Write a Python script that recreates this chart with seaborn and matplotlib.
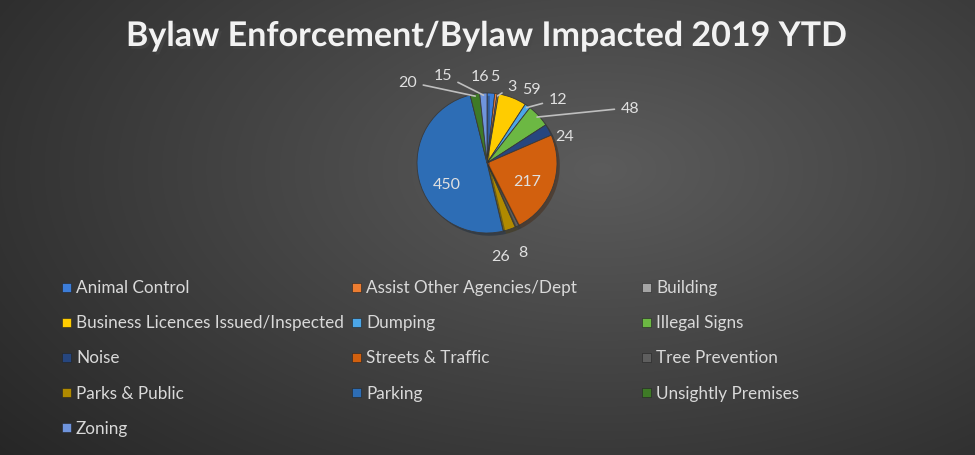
import matplotlib.pyplot as plt
import matplotlib.patheffects as pe
from matplotlib.patches import Rectangle
import seaborn as sns
import numpy as np

# data, in category order (pie runs clockwise from 12 o'clock)
categories = ["Animal Control", "Assist Other Agencies/Dept", "Building",
              "Business Licences Issued/Inspected", "Dumping", "Illegal Signs",
              "Noise", "Streets & Traffic", "Tree Prevention", "Parks & Public",
              "Parking", "Unsightly Premises", "Zoning"]
values = [16, 5, 3, 59, 12, 48, 24, 217, 8, 26, 450, 20, 15]
colors = ["#3C7DD9", "#ED7D31", "#A5A5A5", "#FFCC00", "#4BA6E8", "#6CB843",
          "#26467F", "#D2600E", "#5E5E5E", "#B08A00", "#2D6DB5", "#3E7A26",
          "#6F94DC"]

# layout of the data labels (pie radius = 1) and which ones get a leader line
label_xy = [(-0.10, 1.24), (0.11, 1.24), (0.36, 1.10), (0.64, 1.06),
            (1.01, 0.91), (2.04, 0.79), (1.11, 0.39), (0.57, -0.26),
            (0.51, -1.27), (0.19, -1.33), (-0.57, -0.30), (-1.13, 1.16),
            (-0.63, 1.26)]
leader = [False, False, True, False, True, True, False, False,
          False, False, False, True, True]

sns.set_theme(style="dark")
plt.rcParams['font.family'] = ['Lato', 'DejaVu Sans']

fig = plt.figure(figsize=(9.75, 4.56), dpi=100)

# dark radial gradient background
bg = fig.add_axes([0, 0, 1, 1])
yy, xx = np.mgrid[0:456, 0:975]
dist = np.hypot((xx - 600) / 750, (yy - 170) / 420)
shade = np.clip(0.36 - 0.2 * dist, 0.15, 0.4)
bg.imshow(np.dstack([shade] * 3), aspect='auto', interpolation='bilinear')
bg.axis('off')

# pie: radius 70 px, centre at (487, 164)
ax = fig.add_axes([0.2841, 0.1798, 0.4308, 0.9211])
wedges, _ = ax.pie(values, colors=colors, startangle=90, counterclock=False,
                   radius=1,
                   wedgeprops=dict(edgecolor='#3a3a3a', linewidth=0.6))
for w in wedges:
    w.set_path_effects([pe.SimplePatchShadow(offset=(2, -2), alpha=0.4),
                        pe.Normal()])
ax.set_xlim(-3, 3)
ax.set_ylim(-3, 3)
ax.axis('off')

for w, v, (lx, ly), lead in zip(wedges, values, label_xy, leader):
    mid = np.deg2rad((w.theta1 + w.theta2) / 2)
    tip = (0.97 * np.cos(mid), 0.97 * np.sin(mid))
    arrow = dict(arrowstyle='-', color='#BFBFBF', lw=1.2,
                 shrinkA=2, shrinkB=0) if lead else None
    ax.annotate(str(v), xy=tip, xytext=(lx, ly), ha='center', va='center',
                fontsize=11.5, color='#E0E0E0', arrowprops=arrow,
                annotation_clip=False)

# legend laid out as a 3-column grid, row by row
for i, (cat, col) in enumerate(zip(categories, colors)):
    r, c = divmod(i, 3)
    x = (62 + c * 290) / 975
    y = 1 - (288 + r * 35.2) / 456
    fig.patches.append(Rectangle((x, y - 4.5 / 456), 9 / 975, 9 / 456,
                                 transform=fig.transFigure, facecolor=col,
                                 edgecolor='#222222', lw=0.4))
    fig.text(x + 14 / 975, y, cat, ha='left', va='center', fontsize=12.3,
             color='#D9D9D9')

fig.text(0.499, 1 - 37 / 456, "Bylaw Enforcement/Bylaw Impacted 2019 YTD",
         ha='center', va='center', fontsize=24.5, fontweight='bold',
         color='#F2F2F2',
         path_effects=[pe.withSimplePatchShadow(offset=(2, -2), alpha=0.6)])

fig.savefig("out.png", dpi=100)
